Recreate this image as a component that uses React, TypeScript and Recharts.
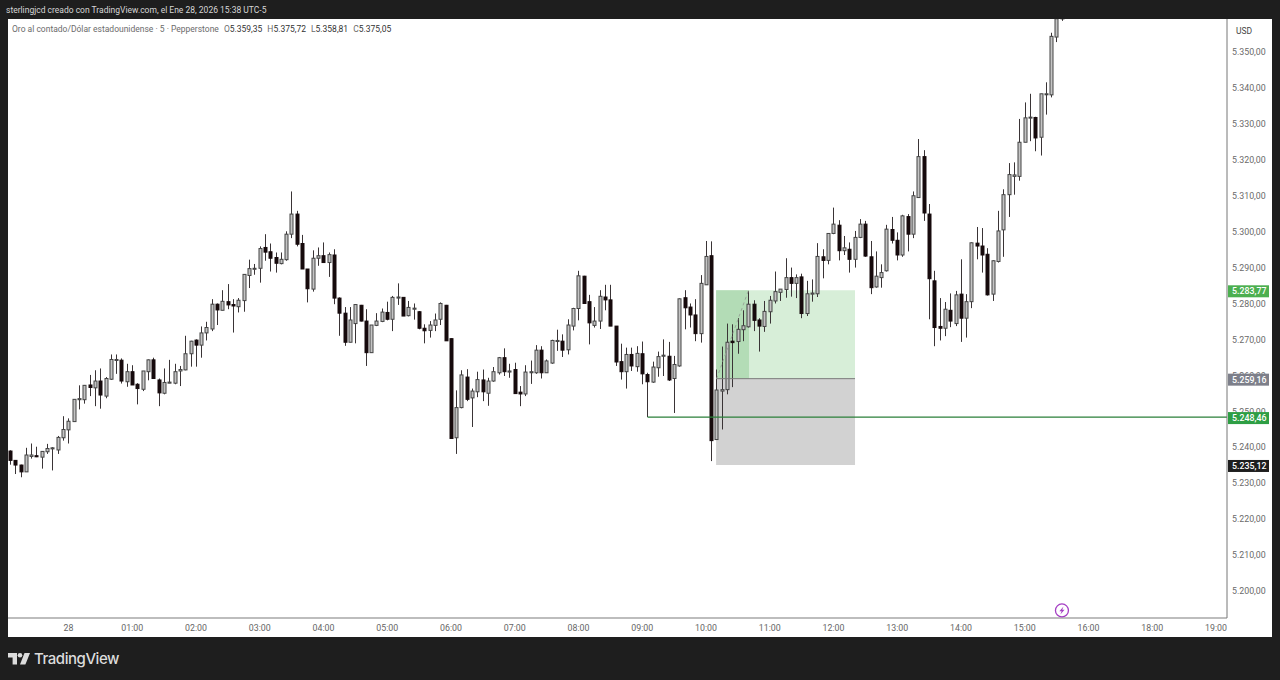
import { ComposedChart, Bar, XAxis, YAxis, ReferenceArea, ReferenceLine, ReferenceDot } from 'recharts'

// 5 minute candles, index 0 is 00:00 on the 28th
const FIRST_SLOT = -11

const opens = [
  5239.0,5236.4,5235.1,5233.2,5237.5,5237.7,5237.3,5238.8,5239.6,5239.3,
  5242.7,5244.9,5247.2,5253.3,5253.3,5257.4,5256.6,5258.5,5254.3,5259.0,
  5264.3,5264.3,5258.3,5261.1,5257.6,5256.2,5261.1,5264.4,5258.8,5255.1,
  5257.9,5257.9,5261.3,5261.6,5266.1,5269.9,5268.5,5271.9,5273.0,5279.9,
  5278.2,5280.6,5279.8,5279.2,5280.9,5287.9,5289.7,5289.9,5295.7,5294.5,
  5292.9,5291.2,5292.3,5299.4,5305.0,5296.8,5289.7,5284.1,5292.7,5293.4,
  5291.5,5293.6,5281.6,5277.4,5269.3,5274.5,5279.6,5275.2,5266.4,5274.0,
  5275.1,5277.6,5275.7,5281.6,5281.8,5276.7,5278.5,5277.8,5273.2,5272.6,
  5274.0,5275.7,5279.6,5270.3,5242.7,5251.1,5259.6,5253.8,5255.5,5258.8,
  5255.1,5258.5,5260.8,5265.0,5261.0,5261.7,5255.4,5254.9,5260.8,5260.8,
  5267.1,5260.8,5263.5,5269.5,5269.6,5267.2,5273.8,5278.7,5287.7,5280.6,
  5274.0,5275.2,5281.9,5281.1,5273.8,5263.9,5261.1,5265.9,5262.5,5266.1,
  5260.3,5258.2,5262.2,5265.4,5265.4,5259.2,5262.7,5281.7,5279.1,5276.9,
  5271.7,5285.3,5293.4,5242.2,5255.7,5256.1,5269.6,5269.5,5272.8,5273.6,
  5279.9,5275.5,5273.7,5277.8,5280.8,5283.2,5284.0,5287.3,5285.7,5287.5,
  5277.3,5282.7,5282.8,5293.1,5292.1,5299.6,5301.9,5294.8,5295.2,5292.4,
  5298.5,5302.2,5293.1,5284.7,5287.3,5289.2,5300.7,5297.7,5293.6,5304.3,
  5299.4,5309.6,5321.0,5305.0,5286.4,5273.7,5273.2,5278.2,5274.5,5282.7,
  5276.0,5280.6,5296.9,5296.1,5293.8,5282.7,5291.8,5300.6,5310.4,5315.5,
  5315.5,5325.0,5331.9,5331.9,5326.4,5338.4,5338.2,5354.3,5359.35,
]

const highs = [
  5239.2,5236.4,5235.2,5239.9,5241.1,5240.2,5239.0,5241.0,5240.1,5243.2,
  5248.7,5248.1,5253.4,5257.3,5257.4,5260.2,5261.5,5262.0,5259.6,5265.9,
  5265.9,5264.8,5263.3,5262.9,5257.9,5261.3,5264.5,5265.0,5259.2,5262.0,
  5264.4,5263.3,5262.7,5271.1,5269.7,5270.1,5273.7,5275.0,5281.3,5280.1,
  5283.8,5285.5,5281.3,5281.6,5288.3,5292.3,5291.1,5296.0,5299.4,5296.8,
  5294.3,5294.3,5300.2,5311.3,5305.9,5299.2,5289.7,5294.9,5295.7,5297.1,
  5294.3,5295.2,5281.8,5279.1,5279.1,5279.9,5279.7,5278.5,5274.1,5277.4,
  5278.7,5280.6,5282.2,5285.7,5281.9,5280.8,5280.1,5278.0,5274.3,5275.2,
  5277.3,5280.4,5279.7,5270.4,5255.9,5261.5,5261.8,5256.4,5261.1,5261.7,
  5259.4,5262.4,5265.2,5267.6,5263.3,5263.6,5257.1,5262.9,5264.2,5268.5,
  5268.2,5264.5,5270.0,5272.8,5271.5,5275.7,5278.9,5289.2,5287.8,5282.5,
  5279.1,5283.8,5285.3,5285.3,5273.8,5268.9,5267.8,5267.8,5268.2,5269.5,
  5260.8,5263.9,5266.7,5270.1,5269.4,5265.5,5281.5,5283.8,5280.1,5281.3,
  5288.0,5297.5,5297.4,5261.7,5268.1,5274.5,5274.3,5276.0,5278.2,5283.6,
  5281.0,5276.0,5280.8,5282.2,5289.0,5284.1,5292.7,5290.1,5288.2,5288.4,
  5286.4,5286.8,5296.9,5295.2,5299.6,5306.8,5303.3,5298.9,5297.1,5300.3,
  5303.6,5303.1,5297.5,5294.6,5291.0,5302.0,5304.2,5299.9,5304.8,5305.0,
  5311.3,5325.9,5322.8,5307.8,5289.2,5281.6,5280.5,5282.9,5283.6,5292.4,
  5282.7,5297.1,5301.4,5301.1,5295.5,5292.1,5305.9,5311.9,5319.2,5319.4,
  5331.5,5336.1,5338.5,5332.1,5338.5,5341.7,5355.5,5360.8,5375.72,
]

const lows = [
  5235.2,5232.6,5231.7,5233.2,5236.9,5237.3,5234.1,5238.2,5233.6,5238.2,
  5241.9,5241.1,5247.2,5250.6,5252.2,5254.3,5251.5,5250.8,5253.7,5258.8,
  5260.5,5257.8,5256.9,5257.4,5252.0,5255.7,5258.7,5259.2,5251.5,5254.8,
  5257.9,5257.6,5257.1,5261.5,5262.5,5262.5,5265.0,5269.8,5272.4,5274.1,
  5278.2,5278.5,5272.0,5277.6,5277.8,5284.4,5288.1,5285.9,5292.0,5289.0,
  5288.7,5291.0,5292.0,5298.3,5296.0,5289.7,5280.4,5283.4,5290.6,5291.5,
  5287.5,5279.9,5271.1,5268.3,5269.3,5269.0,5275.1,5262.7,5266.4,5273.8,
  5274.9,5275.4,5272.4,5279.7,5276.6,5276.5,5275.6,5272.9,5269.0,5270.6,
  5272.4,5274.1,5269.7,5242.5,5238.2,5250.9,5252.9,5245.7,5254.0,5252.9,
  5251.6,5258.3,5260.3,5259.9,5259.4,5254.9,5251.5,5254.3,5257.7,5260.5,
  5259.2,5260.8,5263.3,5266.9,5265.2,5265.9,5272.6,5275.4,5280.1,5268.7,
  5273.4,5273.0,5278.2,5273.8,5262.7,5258.9,5256.4,5261.3,5261.1,5257.6,
  5248.46,5258.0,5259.7,5259.9,5258.5,5249.6,5262.5,5272.9,5273.4,5269.6,
  5269.2,5285.3,5236.2,5242.1,5245.0,5254.8,5256.8,5266.1,5269.6,5273.4,
  5272.4,5266.7,5272.2,5274.5,5280.1,5280.8,5281.7,5282.0,5281.6,5276.0,
  5276.6,5280.6,5281.9,5287.1,5291.0,5299.4,5292.1,5293.6,5288.7,5290.1,
  5298.3,5293.1,5282.7,5284.5,5284.5,5289.0,5296.8,5292.1,5293.1,5294.6,
  5298.3,5309.6,5303.1,5275.7,5268.2,5269.8,5271.0,5273.5,5273.8,5269.4,
  5270.6,5278.8,5292.4,5288.7,5282.3,5280.8,5291.5,5293.1,5304.2,5310.4,
  5314.3,5325.0,5325.3,5322.5,5321.3,5332.7,5337.5,5352.9,5358.81,
]

const closes = [
  5236.4,5235.1,5233.2,5237.9,5237.9,5237.4,5238.9,5239.7,5239.9,5242.8,
  5245.0,5247.3,5253.4,5253.6,5257.3,5256.7,5258.5,5254.6,5259.2,5264.5,
  5264.5,5258.5,5261.1,5257.4,5256.4,5261.3,5264.4,5259.2,5255.2,5258.1,
  5258.2,5261.1,5261.7,5266.1,5269.6,5268.5,5271.9,5273.4,5279.9,5278.3,
  5280.7,5279.7,5279.4,5281.0,5288.2,5289.8,5289.9,5295.4,5294.4,5292.7,
  5291.3,5292.4,5299.4,5305.0,5296.6,5289.7,5284.2,5292.7,5293.4,5291.5,
  5293.7,5281.6,5277.4,5269.3,5275.5,5279.8,5275.2,5266.4,5274.1,5275.2,
  5277.7,5275.7,5281.8,5281.9,5276.6,5279.0,5278.8,5273.2,5272.5,5274.1,
  5275.5,5280.1,5269.7,5242.5,5251.1,5260.2,5253.4,5255.7,5258.9,5255.5,
  5258.5,5261.1,5265.0,5261.1,5261.3,5255.0,5254.9,5261.0,5261.1,5267.1,
  5260.8,5264.1,5269.8,5269.8,5267.1,5274.1,5278.7,5287.8,5280.1,5274.7,
  5275.2,5282.1,5281.1,5273.8,5263.8,5261.1,5265.9,5262.7,5266.2,5260.5,
  5258.3,5262.4,5265.3,5265.7,5258.8,5263.1,5281.4,5278.9,5276.9,5271.7,
  5285.7,5293.2,5241.9,5256.0,5256.1,5269.3,5269.2,5272.9,5273.9,5279.9,
  5275.4,5273.8,5277.9,5281.0,5283.4,5284.1,5287.3,5285.7,5287.3,5277.3,
  5282.8,5283.0,5293.2,5292.1,5299.6,5302.2,5294.8,5295.6,5292.4,5298.5,
  5302.2,5293.3,5284.5,5287.7,5288.7,5300.8,5297.7,5293.6,5304.5,5299.4,
  5310.1,5321.0,5305.3,5287.0,5273.4,5273.2,5278.5,5275.2,5282.5,5276.0,
  5280.6,5297.0,5296.1,5293.6,5282.5,5292.0,5300.3,5310.4,5316.0,5315.9,
  5325.0,5331.8,5332.0,5326.2,5338.5,5338.5,5354.5,5359.4,5375.05,
]

const hourTicks = [0, 12, 24, 36, 48, 60, 72, 84, 96, 108, 120, 132, 144, 156, 168, 180, 192, 204, 216]
const hourLabels = ['28', '01:00', '02:00', '03:00', '04:00', '05:00', '06:00', '07:00', '08:00', '09:00', '10:00', '11:00', '12:00', '13:00', '14:00', '15:00', '16:00', '18:00', '19:00']

const priceTicks = [5200, 5210, 5220, 5230, 5240, 5250, 5260, 5270, 5280, 5290, 5300, 5310, 5320, 5330, 5340, 5350]
const priceTags = [
  { price: 5283.77, color: '#4caf50' },
  { price: 5259.16, color: '#7d7f8a' },
  { price: 5248.46, color: '#2e9e44' },
  { price: 5235.12, color: '#1e1e1e' },
]

const X_MIN = -11.39
const X_MAX = 218.07
const TARGET = 5283.77
const ENTRY = 5259.16
const STOP = 5235.12
const LEVEL = 5248.46

const data = opens.map((open, i) => ({
  slot: FIRST_SLOT + i,
  open,
  high: highs[i],
  low: lows[i],
  close: closes[i],
  range: [lows[i], highs[i]],
}))

const formatPrice = (v: number) => {
  const [int, dec] = v.toFixed(2).split('.')
  return `${int[0]}.${int.slice(1)},${dec}`
}

function Candle(props: any) {
  const { x, y, width, height, payload } = props
  const { open, high, low, close } = payload
  const perUnit = height / (high - low)
  const toY = (p: number) => y + (high - p) * perUnit
  const cx = Math.round(x + width / 2 - 0.5) + 0.5
  const up = close >= open
  const top = toY(Math.max(open, close))
  const bottom = toY(Math.min(open, close))
  return (
    <g>
      <line x1={cx} x2={cx} y1={y} y2={y + height} stroke="#3a3436" strokeWidth={1} />
      <rect
        x={cx - 1.5}
        y={top}
        width={3}
        height={Math.max(bottom - top, 1)}
        fill={up ? '#c4c4c4' : '#160a0c'}
        stroke={up ? '#444' : '#160a0c'}
        strokeWidth={1}
      />
    </g>
  )
}

function PriceTick(props: any) {
  const { x, y, payload } = props
  const tag = priceTags.find(t => t.price === payload.value)
  if (tag) {
    return (
      <g>
        <rect x={x - 4} y={y - 5} width={41} height={12} fill={tag.color} />
        <text x={x} y={y + 4} fontSize={8.8} fontFamily="Roboto" fontWeight={500} fill="#fff">{formatPrice(payload.value)}</text>
      </g>
    )
  }
  return <text x={x} y={y + 3} fontSize={8.8} fontFamily="Roboto" fill="#6a6a6a">{formatPrice(payload.value)}</text>
}

function Bolt(props: any) {
  const { cx, cy } = props
  return (
    <g>
      <circle cx={cx} cy={cy} r={6.5} fill="#fff" stroke="#a53fc4" strokeWidth={1.3} />
      <path d={`M${cx + 1.6} ${cy - 4} L${cx - 2.6} ${cy + 0.8} H${cx - 0.3} L${cx - 1.6} ${cy + 4} L${cx + 2.6} ${cy - 0.8} H${cx + 0.3} Z`} fill="#a53fc4" />
    </g>
  )
}

export default function App() {
  return (
    <div style={{ position: 'fixed', left: 0, top: 0, width: 1280, height: 680, background: '#1e1e1e', overflow: 'hidden', fontFamily: 'Roboto, sans-serif' }}>
      <div style={{ position: 'absolute', left: 6, top: 4, fontSize: 8.5, lineHeight: '12px', color: '#d6d6d6', whiteSpace: 'nowrap' }}>
        sterlingjcd creado con TradingView.com, el Ene 28, 2026 15:38 UTC-5
      </div>

      <div style={{ position: 'absolute', left: 8, top: 19, width: 1264, height: 618, background: '#fff' }}>
        <ComposedChart width={1264} height={618} data={data} margin={{ top: 0, right: 0, bottom: 0, left: 0 }} barSize={4}>
          <XAxis
            dataKey="slot"
            type="number"
            domain={[X_MIN, X_MAX]}
            allowDataOverflow
            ticks={hourTicks}
            interval={0}
            height={19}
            stroke="#bdbdbd"
            strokeWidth={2}
            tickLine={false}
            tickMargin={7}
            tickSize={0}
            tick={{ fontSize: 8.8, fontFamily: 'Roboto', fill: '#666' }}
            tickFormatter={(v: number) => hourLabels[hourTicks.indexOf(v)]}
          />
          <YAxis
            orientation="right"
            type="number"
            domain={[5192.5, 5359.33]}
            allowDataOverflow
            ticks={[...priceTicks, ...priceTags.map(t => t.price)]}
            interval={0}
            width={45}
            stroke="#777"
            tickLine={false}
            tickSize={0}
            tickMargin={5}
            tick={<PriceTick />}
          />
          <ReferenceArea x1={121.9} x2={148.05} y1={ENTRY} y2={TARGET} fill="#d7eed8" fillOpacity={1} stroke="none" />
          <ReferenceArea x1={121.9} x2={128.1} y1={ENTRY} y2={TARGET} fill="#b3dcb6" fillOpacity={1} stroke="none" />
          <ReferenceArea x1={121.9} x2={148.05} y1={STOP} y2={ENTRY} fill="#d2d2d2" fillOpacity={1} stroke="none" />
          <ReferenceLine
            segment={[{ x: 121.9, y: ENTRY }, { x: 148.05, y: ENTRY }]}
            stroke="#7a7a7a"
            strokeWidth={1}
          />
          <ReferenceLine
            segment={[{ x: 122, y: ENTRY }, { x: 128, y: TARGET }]}
            stroke="#9aa89a"
            strokeWidth={1}
            strokeDasharray="3 3"
          />
          <ReferenceLine
            segment={[{ x: 109, y: LEVEL }, { x: X_MAX, y: LEVEL }]}
            stroke="#2a7f38"
            strokeWidth={1.2}
          />
          <Bar dataKey="range" shape={<Candle />} isAnimationActive={false} />
          <ReferenceDot x={187} y={5194.6} ifOverflow="visible" shape={<Bolt />} />
        </ComposedChart>

        <div style={{ position: 'absolute', left: 4, top: 4, fontSize: 8.5, lineHeight: '12px', color: '#6b6b6b', whiteSpace: 'nowrap' }}>
          Oro al contado/Dólar estadounidense · 5 · Pepperstone
          <span style={{ marginLeft: 5 }}>O<span style={{ color: '#333' }}>5.359,35</span></span>
          <span style={{ marginLeft: 5 }}>H<span style={{ color: '#333' }}>5.375,72</span></span>
          <span style={{ marginLeft: 5 }}>L<span style={{ color: '#333' }}>5.358,81</span></span>
          <span style={{ marginLeft: 5 }}>C<span style={{ color: '#333' }}>5.375,05</span></span>
        </div>
        <div style={{ position: 'absolute', left: 1228, top: 6, fontSize: 8.5, lineHeight: '12px', color: '#444' }}>USD</div>
      </div>

      <svg style={{ position: 'absolute', left: 8, top: 653 }} width={22} height={12} viewBox="0 0 22 12">
        <path d="M0 0h9v11.5H4.6V4.4H0z" fill="#dcdcdc" />
        <circle cx={12} cy={2.3} r={2.3} fill="#dcdcdc" />
        <path d="M16.5 0H22l-4.6 11.5H12z" fill="#dcdcdc" />
      </svg>
      <div style={{ position: 'absolute', left: 34, top: 650, fontSize: 15, lineHeight: '18px', fontWeight: 500, color: '#dcdcdc', fontFamily: 'Inter, sans-serif', letterSpacing: -0.45 }}>
        TradingView
      </div>
    </div>
  )
}
